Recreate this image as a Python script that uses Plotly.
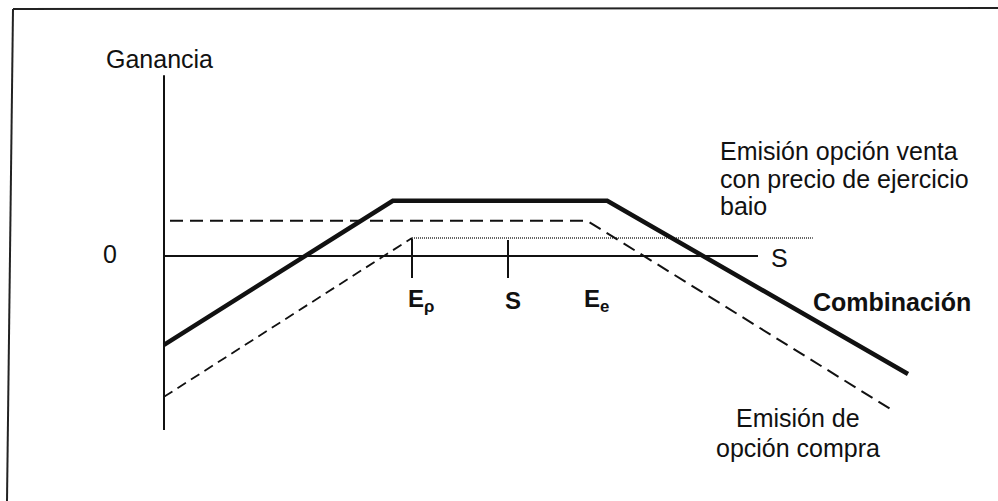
import plotly.graph_objects as go

# ---- data (price units on x, profit units on y) ----
combo_price = [0.0, 28.6, 55.4, 93.0]
combo_profit = [-11.1, 6.9, 6.9, -14.75]

put_price = [0.0, 31.0]            # rising dashed leg of the written put (low strike)
put_profit = [-17.6, 2.25]
put_flat_price = [31.0, 81.1]      # dotted flat part
put_flat_profit = [2.25, 2.25]

call_price = [0.75, 52.9, 91.0]    # written call
call_profit = [4.4, 4.4, -19.25]

zero_price = [0.0, 74.25]
zero_profit = [0.0, 0.0]
gain_axis_price = [0.0, 0.0]
gain_axis_profit = [22.6, -21.75]

tick_names = ["E<sub>ρ</sub>", "S", "E<sub>e</sub>"]
tick_label_price = [32.1, 43.6, 54.0]
tick_mark_price = [31.0, 43.0]
tick_mark_top = [2.25, 2.0]
tick_mark_bottom = -2.75

FONT = "Liberation Sans, Arial, Helvetica, sans-serif"
INK = "#111111"

fig = go.Figure()

def line(x, y, width, dash="solid", color=INK):
    fig.add_trace(go.Scatter(x=x, y=y, mode="lines", showlegend=False, hoverinfo="skip",
                             line=dict(color=color, width=width, dash=dash)))

line(gain_axis_price, gain_axis_profit, 2)
line(zero_price, zero_profit, 2)
for px, top in zip(tick_mark_price, tick_mark_top):
    line([px, px], [top, tick_mark_bottom], 2)
line(put_flat_price, put_flat_profit, 2, dash="1px,1px", color="#666666")
line(put_price, put_profit, 1.8, dash="10px,6px")
line(call_price, call_profit, 2, dash="13px,7px")
line(combo_price, combo_profit, 4.5)

def text(x, y, s, size=25, bold=False, xanchor="center"):
    fig.add_annotation(x=x, y=y, xref="x", yref="y", text=(f"<b>{s}</b>" if bold else s),
                       showarrow=False, xanchor=xanchor, yanchor="middle",
                       font=dict(family=FONT, size=size, color=INK))

text(-0.6, 24.6, "Ganancia")
text(-6.75, 0.25, "0")
text(75.6, -0.25, "S", xanchor="left")
for px, name in zip(tick_label_price, tick_names):
    text(px, -5.6, name, size=24, bold=True)
text(91.0, -5.75, "Combinación", bold=True)
for yy, s in zip([13.1, 9.65, 6.2], ["Emisión opción venta", "con precio de ejercicio", "baio"]):
    text(69.25, yy, s, xanchor="left")
for yy, s in zip([-20.25, -24.0], ["Emisión de", "opción compra"]):
    text(79.2, yy, s)

# frame (scan border: top and left edges)
fig.add_shape(type="line", xref="paper", yref="paper", x0=13/998, y0=1-9/501, x1=1, y1=1-8/501,
              line=dict(color="#222", width=2))
fig.add_shape(type="line", xref="paper", yref="paper", x0=13/998, y0=1-9/501, x1=7/998, y1=0,
              line=dict(color="#222", width=2))

fig.update_layout(
    width=998, height=501, autosize=False,
    margin=dict(l=0, r=0, t=0, b=0),
    paper_bgcolor="white", plot_bgcolor="white",
    xaxis=dict(range=[-20.5, 104.25], visible=False, fixedrange=True),
    yaxis=dict(range=[-30.625, 32.0], visible=False, fixedrange=True),
)

fig.write_html(
    "out.html",
    config={"displayModeBar": False},
    post_script="document.body.style.margin='0';document.body.style.overflow='hidden';",
)
